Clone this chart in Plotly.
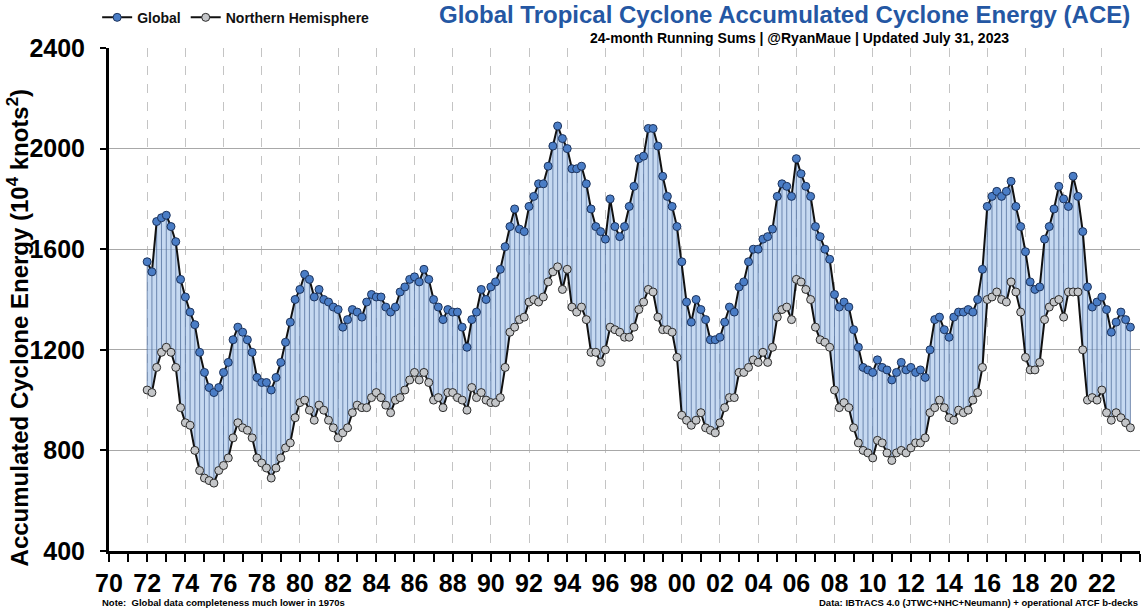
import pandas as pd
import plotly.graph_objects as go

# 24-month running sums of ACE (Jan 1972 .. Jul 2023)
global_ace = [
    1550, 1510, 1710, 1725,  1735, 1690, 1630, 1480,  1410, 1350, 1300, 1190,
    1110, 1050, 1030, 1050,  1110, 1150, 1240, 1290,  1270, 1240, 1190, 1090,
    1070, 1070, 1040, 1090,  1150, 1230, 1310, 1400,  1440, 1500, 1480, 1410,
    1440, 1400, 1390, 1370,  1360, 1290, 1320, 1360,  1350, 1330, 1390, 1420,
    1410, 1410, 1370, 1350,  1370, 1430, 1450, 1480,  1490, 1470, 1520, 1480,
    1400, 1370, 1320, 1360,  1350, 1350, 1290, 1210,  1320, 1350, 1440, 1400,
    1450, 1470, 1520, 1610,  1690, 1760, 1680, 1670,  1770, 1810, 1860, 1860,
    1930, 2010, 2090, 2040,  2000, 1920, 1920, 1930,  1860, 1760, 1690, 1670,
    1640, 1800, 1690, 1650,  1690, 1770, 1850, 1960,  1970, 2080, 2080, 2010,
    1890, 1810, 1770, 1690,  1550, 1390, 1310, 1400,  1360, 1320, 1240, 1240,
    1250, 1310, 1370, 1350,  1450, 1470, 1550, 1600,  1600, 1640, 1650, 1680,
    1810, 1860, 1850, 1810,  1960, 1900, 1850, 1810,  1690, 1650, 1600, 1560,
    1420, 1370, 1390, 1370,  1280, 1210, 1130, 1120,  1110, 1160, 1130, 1120,
    1080, 1110, 1150, 1120,  1130, 1110, 1120, 1090,  1200, 1320, 1330, 1280,
    1250, 1330, 1350, 1350,  1360, 1350, 1400, 1520,  1770, 1810, 1830, 1810,
    1830, 1870, 1770, 1690,  1590, 1470, 1440, 1450,  1640, 1690, 1760, 1850,
    1800, 1770, 1890, 1810,  1670, 1450, 1370, 1390,  1410, 1360, 1270, 1310,
    1350, 1320, 1290,
]
nh_ace = [
    1040, 1030, 1130, 1190,  1210, 1190, 1130, 970,   910, 900, 800, 720,
    690, 680, 670, 720,      740, 770, 850, 910,      890, 880, 850, 770,
    750, 730, 690, 730,      770, 810, 830, 930,      990, 1000, 960, 920,
    980, 960, 920, 890,      850, 870, 890, 950,      980, 970, 970, 1010,
    1030, 1010, 980, 950,    1000, 1010, 1040, 1080,  1110, 1080, 1110, 1070,
    1000, 1010, 970, 1030,   1030, 1010, 1000, 960,   1050, 1010, 1030, 1000,
    990, 990, 1010, 1130,    1270, 1290, 1320, 1330,  1390, 1400, 1390, 1410,
    1470, 1510, 1530, 1440,  1520, 1370, 1350, 1370,  1320, 1190, 1190, 1150,
    1200, 1290, 1280, 1270,  1250, 1250, 1290, 1360,  1390, 1440, 1430, 1330,
    1280, 1280, 1270, 1170,  940, 920, 900, 920,      950, 890, 880, 870,
    910, 970, 1010, 1010,    1110, 1110, 1130, 1160,  1150, 1190, 1150, 1210,
    1330, 1360, 1370, 1320,  1480, 1470, 1440, 1400,  1290, 1240, 1230, 1210,
    1040, 970, 990, 970,     890, 830, 800, 790,      770, 840, 830, 790,
    760, 790, 800, 790,      810, 830, 830, 850,      950, 970, 1000, 970,
    930, 920, 960, 950,      960, 1000, 1030, 1130,   1400, 1410, 1430, 1400,
    1390, 1470, 1430, 1350,  1170, 1120, 1120, 1150,  1320, 1370, 1390, 1400,
    1330, 1430, 1430, 1430,  1200, 1000, 1010, 1000,  1040, 950, 920, 950,
    930, 910, 890,
]
dates = pd.date_range("1972-01-01", periods=len(global_ace), freq="QS")

FONT = "Liberation Sans, Arial"

fig = go.Figure()

# shaded band between the two series
fig.add_trace(go.Scatter(x=dates, y=nh_ace, mode="lines", line=dict(width=0),
                         showlegend=False, hoverinfo="skip"))
fig.add_trace(go.Scatter(x=dates, y=global_ace, mode="lines", line=dict(width=0),
                         fill="tonexty", fillcolor="rgba(160,192,232,0.6)",
                         showlegend=False, hoverinfo="skip"))

# thin vertical drop lines from NH up to Global
vx, vy = [], []
for d, lo, hi in zip(dates, nh_ace, global_ace):
    vx += [d, d, None]
    vy += [lo, hi, None]
fig.add_trace(go.Scatter(x=vx, y=vy, mode="lines",
                         line=dict(color="rgba(60,90,140,0.65)", width=1),
                         showlegend=False, hoverinfo="skip"))

fig.add_trace(go.Scatter(
    x=dates, y=nh_ace, mode="lines+markers", name="Northern Hemisphere",
    line=dict(color="#111111", width=2),
    marker=dict(size=8, color="#c4c6c9", line=dict(color="#2a2a2a", width=1)),
))
fig.add_trace(go.Scatter(
    x=dates, y=global_ace, mode="lines+markers", name="Global",
    line=dict(color="#111111", width=2),
    marker=dict(size=8, color="#4a7dc6", line=dict(color="#1c335c", width=1)),
))

fig.update_layout(
    width=1143, height=612,
    margin=dict(l=109, r=3, t=48, b=61, autoexpand=False),
    paper_bgcolor="white", plot_bgcolor="white",
    font=dict(family=FONT, color="black"),
    legend=dict(orientation="h", xref="container", yref="container",
                x=0.085, y=0.971, xanchor="left", yanchor="middle",
                traceorder="reversed",
                font=dict(family=FONT, size=14, color="#111", weight="bold"),
                itemwidth=30, bgcolor="rgba(0,0,0,0)"),
    showlegend=True,
)

fig.update_xaxes(
    type="date", range=["1970-01-01", "2024-01-01"], automargin=False,
    tick0="1970-01-01", dtick="M24", tickformat="%y", tickangle=0,
    ticks="outside", ticklen=8, tickwidth=2, tickcolor="black",
    tickfont=dict(family=FONT, size=25, color="black", weight="bold"),
    showline=True, linecolor="black", linewidth=3,
    showgrid=True, gridcolor="#c4c4c4", griddash="dash", gridwidth=1,
    minor=dict(dtick="M12", ticks="outside", ticklen=8, tickwidth=2,
               tickcolor="black", showgrid=False),
)
fig.update_yaxes(
    range=[400, 2400], dtick=400, tick0=400, automargin=False,
    ticks="outside", ticklen=6, tickwidth=2, tickcolor="black",
    ticklabelstandoff=10,
    tickfont=dict(family=FONT, size=25, color="black", weight="bold"),
    showline=True, linecolor="black", linewidth=3,
    showgrid=True, gridcolor="#a8a8a8", gridwidth=1, zeroline=False,
)

fig.add_annotation(
    text="<b>Accumulated Cyclone Energy (10<sup>4</sup> knots<sup>2</sup>)</b>",
    xref="paper", yref="paper", x=-0.088, y=0.445, textangle=-90,
    xanchor="center", yanchor="middle",
    showarrow=False, font=dict(family=FONT, size=24, color="black"),
)
fig.add_annotation(
    text="<b>Global Tropical Cyclone Accumulated Cyclone Energy (ACE)</b>",
    xref="paper", yref="paper", x=0.992, y=1.066, xanchor="right", yanchor="middle",
    showarrow=False, font=dict(family=FONT, size=24, color="#2457a3"),
)
fig.add_annotation(
    text="<b>24-month Running Sums | @RyanMaue | Updated July 31, 2023</b>",
    xref="paper", yref="paper", x=0.67, y=1.02, xanchor="center", yanchor="middle",
    showarrow=False, font=dict(family=FONT, size=14, color="black"),
)
fig.add_annotation(
    text="<b>Note:  Global data completeness much lower in 1970s</b>",
    xref="paper", yref="paper", x=-0.009, y=-0.103, xanchor="left", yanchor="middle",
    showarrow=False, font=dict(family=FONT, size=9.5, color="black"),
)
fig.add_annotation(
    text="<b>Data: IBTrACS 4.0 (JTWC+NHC+Neumann) + operational ATCF b-decks</b>",
    xref="paper", yref="paper", x=1.0, y=-0.103, xanchor="right", yanchor="middle",
    showarrow=False, font=dict(family=FONT, size=9.5, color="black"),
)

# drop the browser's default body margin so the figure sits at the page corner
fig.write_html("out.html", config={"displayModeBar": False},
               post_script="document.body.style.margin = '0';")
